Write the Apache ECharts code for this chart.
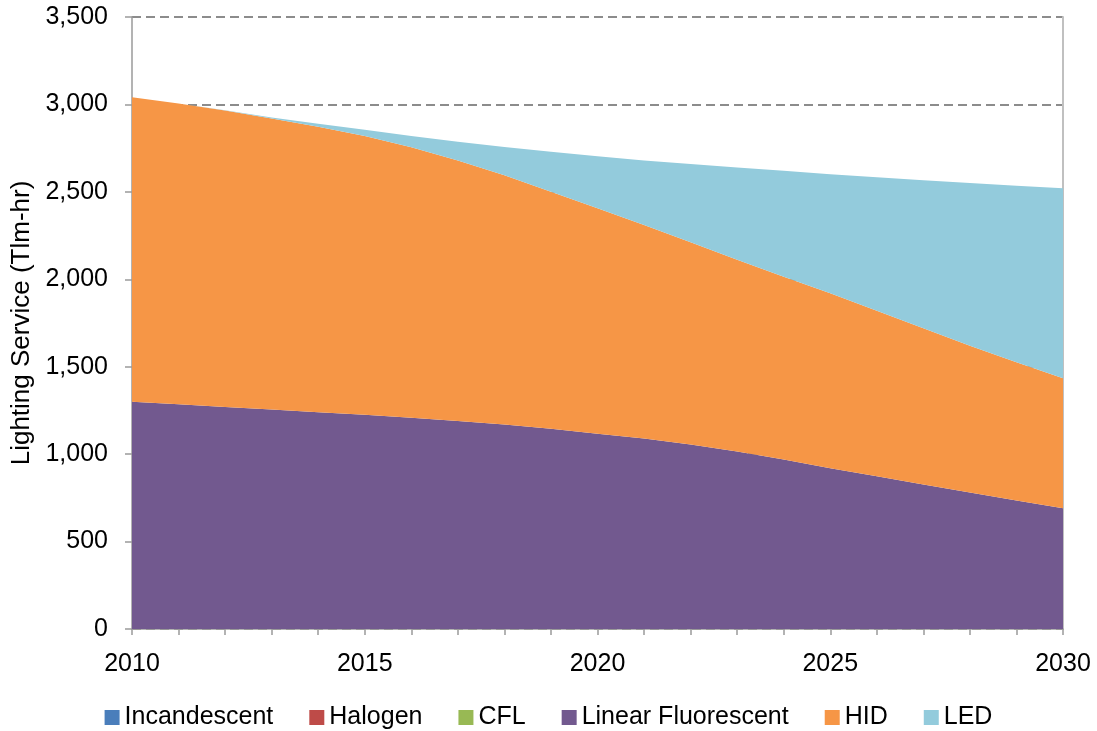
<!DOCTYPE html>
<html>
<head>
<meta charset="utf-8">
<title>Lighting Service</title>
<script src="https://cdn.jsdelivr.net/npm/echarts@6/dist/echarts.min.js"></script>
<style>
	html, body { margin: 0; padding: 0; background: #fff; }
	#chart { width: 1097px; height: 731px; }
</style>
</head>
<body>
<div id="chart"></div>
<script>
// 年份
var years = ['2010', '2011', '2012', '2013', '2014', '2015', '2016', '2017', '2018', '2019', '2020',
	'2021', '2022', '2023', '2024', '2025', '2026', '2027', '2028', '2029', '2030'];

var yTicks = [0, 500, 1000, 1500, 2000, 2500, 3000, 3500];

// Tlm-hr per technology
var incandescent = [0, 0, 0, 0, 0, 0, 0, 0, 0, 0, 0, 0, 0, 0, 0, 0, 0, 0, 0, 0, 0];
var halogen = [0, 0, 0, 0, 0, 0, 0, 0, 0, 0, 0, 0, 0, 0, 0, 0, 0, 0, 0, 0, 0];
var cfl = [0, 0, 0, 0, 0, 0, 0, 0, 0, 0, 0, 0, 0, 0, 0, 0, 0, 0, 0, 0, 0];
var linearFluorescent = [1300, 1285, 1270, 1255, 1240, 1225, 1208, 1190, 1170, 1145, 1117,
	1090, 1055, 1015, 970, 920, 873, 826, 780, 735, 690];
var hid = [1741, 1720, 1695, 1665, 1632, 1594, 1547, 1490, 1425, 1355, 1289,
	1220, 1157, 1097, 1045, 1000, 947, 894, 840, 790, 744];
var led = [0, 0, 1, 5, 18, 36, 65, 107, 162, 229, 297,
	370, 447, 528, 605, 680, 763, 846, 930, 1010, 1086];

var seriesNames = ['Incandescent', 'Halogen', 'CFL', 'Linear Fluorescent', 'HID', 'LED'];
var seriesData = [incandescent, halogen, cfl, linearFluorescent, hid, led];
var colors = ['#4A7EBB', '#BE4B48', '#98B954', '#72598F', '#F69646', '#93CBDC'];

var font = '"Liberation Sans", Arial, sans-serif';

function buildSeries() {
	return seriesNames.map(function(name, i) {
		return {
			name: name,
			type: 'line',
			stack: 'total',
			data: seriesData[i],
			showSymbol: false,
			symbol: 'none',
			lineStyle: { width: 0 },
			areaStyle: { color: colors[i], opacity: 1 },
			itemStyle: { color: colors[i] },
			emphasis: { disabled: true }
		};
	});
}

function initChart() {
	var chart = echarts.init(document.getElementById('chart'));
	chart.setOption({
		animation: false,
		backgroundColor: '#fff',
		color: colors,
		grid: { left: 132, right: 34, top: 17, bottom: 102 },
		legend: {
			data: seriesNames,
			bottom: -4,
			left: 'center',
			icon: 'rect',
			itemWidth: 15,
			itemHeight: 15,
			itemGap: 36,
			textStyle: { fontFamily: font, fontSize: 25, color: '#000' }
		},
		xAxis: {
			type: 'category',
			data: years,
			boundaryGap: false,
			axisLine: { lineStyle: { color: '#9a9a9a', width: 1.5 } },
			axisTick: { show: true, interval: 0, length: 6, lineStyle: { color: '#9a9a9a', width: 1.5 } },
			axisLabel: { interval: 4, margin: 23, fontFamily: font, fontSize: 25, color: '#000' },
			splitLine: { show: false }
		},
		yAxis: [{
			type: 'value',
			min: yTicks[0],
			max: yTicks[yTicks.length - 1],
			interval: 500,
			name: 'Lighting Service (Tlm-hr)',
			nameLocation: 'middle',
			nameGap: 92,
			nameTextStyle: { fontFamily: font, fontSize: 26, color: '#000' },
			axisLine: { show: true, lineStyle: { color: '#9a9a9a', width: 1.5 } },
			axisTick: { show: true, length: 7, lineStyle: { color: '#9a9a9a', width: 1.5 } },
			axisLabel: {
				margin: 24,
				fontFamily: font,
				fontSize: 25,
				color: '#000',
				formatter: function(v) { return v.toLocaleString('en-US'); }
			},
			splitLine: { show: true, lineStyle: { color: '#8c8c8c', width: 2, type: [9, 5] } }
		}, {
			// 右侧边框
			type: 'value',
			position: 'right',
			min: yTicks[0],
			max: yTicks[yTicks.length - 1],
			interval: 500,
			axisLine: { show: true, lineStyle: { color: '#c0c0c0', width: 2 } },
			axisTick: { show: false },
			axisLabel: { show: false },
			splitLine: { show: false }
		}],
		series: buildSeries()
	});
}

initChart();
</script>
</body>
</html>
